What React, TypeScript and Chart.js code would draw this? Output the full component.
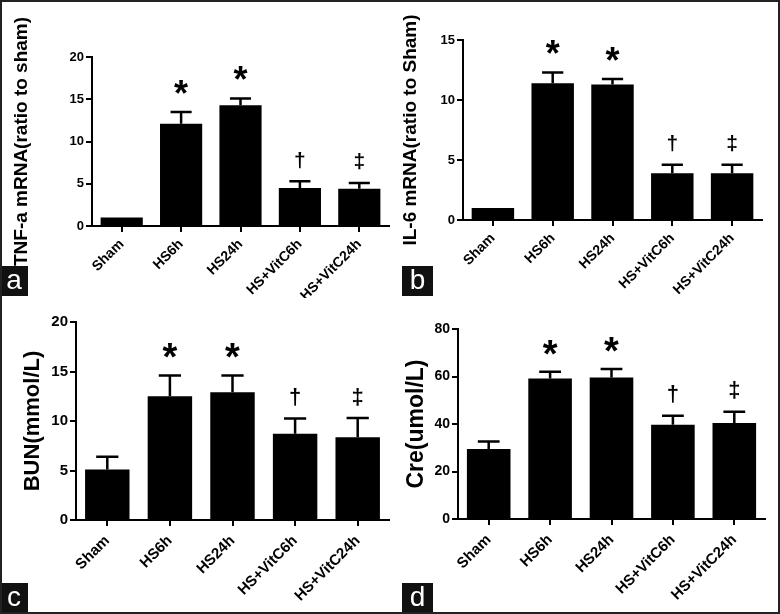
import React, { useEffect, useRef } from "react";
import { Chart, registerables } from "chart.js";

Chart.register(...registerables);

// ---------- data ----------
const categories = ["Sham", "HS6h", "HS24h", "HS+VitC6h", "HS+VitC24h"];

const tnfValues = [1.0, 12.1, 14.3, 4.5, 4.4];
const tnfErrTops = [1.0, 13.5, 15.1, 5.3, 5.1];

const il6Values = [1.0, 11.4, 11.3, 3.9, 3.9];
const il6ErrTops = [1.0, 12.3, 11.75, 4.6, 4.6];

const bunValues = [5.1, 12.5, 12.9, 8.7, 8.35];
const bunErrTops = [6.4, 14.6, 14.6, 10.25, 10.3];

const creValues = [29.5, 59.2, 59.6, 39.7, 40.4];
const creErrTops = [32.6, 62.0, 63.2, 43.5, 45.2];

const significanceMarks = ["", "*", "*", "\u2020", "\u2021"];

const FONT = "'Liberation Sans', Arial, Helvetica, sans-serif";

type PanelCfg = {
  letter: string;
  title: string;
  values: number[];
  errTops: number[];
  max: number;
  step: number;
  x: number;
  y: number;
  w: number;
  h: number;
  left: number;
  right: number;
  top: number;
  bottom: number;
  titleSize: number;
  titleX: number;
  tickSize: number;
  xTickSize: number;
  xTickPad: number;
  starSize: number;
  daggerSize: number;
  letterBox: { x: number; y: number; w: number; h: number };
};

const panels: PanelCfg[] = [
  {
    letter: "a",
    title: "TNF-a mRNA(ratio to sham)",
    values: tnfValues,
    errTops: tnfErrTops,
    max: 20,
    step: 5,
    x: 0, y: 0, w: 400, h: 298,
    left: 92, right: 389, top: 57, bottom: 226,
    titleSize: 19, titleX: 22, tickSize: 13, xTickSize: 14, xTickPad: 4,
    starSize: 36, daggerSize: 21,
    letterBox: { x: 0, y: 266, w: 28, h: 30 },
  },
  {
    letter: "b",
    title: "IL-6 mRNA(ratio to Sham)",
    values: il6Values,
    errTops: il6ErrTops,
    max: 15,
    step: 5,
    x: 400, y: 0, w: 380, h: 298,
    left: 63, right: 362, top: 40, bottom: 220,
    titleSize: 19, titleX: 11, tickSize: 13, xTickSize: 14, xTickPad: 4,
    starSize: 36, daggerSize: 21,
    letterBox: { x: 2, y: 266, w: 31, h: 30 },
  },
  {
    letter: "c",
    title: "BUN(mmol/L)",
    values: bunValues,
    errTops: bunErrTops,
    max: 20,
    step: 5,
    x: 0, y: 298, w: 400, h: 316,
    left: 76, right: 389, top: 24, bottom: 222,
    titleSize: 22, titleX: 33, tickSize: 15, xTickSize: 15, xTickPad: 6,
    starSize: 38, daggerSize: 22,
    letterBox: { x: 0, y: 285, w: 28, h: 29 },
  },
  {
    letter: "d",
    title: "Cre(umol/L)",
    values: creValues,
    errTops: creErrTops,
    max: 80,
    step: 20,
    x: 400, y: 298, w: 380, h: 316,
    left: 58, right: 365, top: 31, bottom: 221,
    titleSize: 23, titleX: 17, tickSize: 14, xTickSize: 15, xTickPad: 6,
    starSize: 38, daggerSize: 22,
    letterBox: { x: 2, y: 285, w: 31, h: 29 },
  },
];

function makeOverlay(cfg: PanelCfg) {
  return {
    id: "errorBarsAndMarks",
    afterDatasetsDraw(chart: any) {
      const ctx = chart.ctx;
      const meta = chart.getDatasetMeta(0);
      const ys = chart.scales.y;
      ctx.save();
      ctx.strokeStyle = "#000";
      ctx.fillStyle = "#000";
      ctx.lineWidth = 2.5;
      ctx.lineCap = "butt";
      meta.data.forEach((bar: any, i: number) => {
        const v = cfg.values[i];
        const e = cfg.errTops[i];
        const x = bar.x;
        const w = bar.width;
        const yTop = ys.getPixelForValue(e);
        const yBar = ys.getPixelForValue(v);
        if (e > v) {
          ctx.beginPath();
          ctx.moveTo(x, yBar);
          ctx.lineTo(x, yTop);
          ctx.moveTo(x - w * 0.25, yTop);
          ctx.lineTo(x + w * 0.25, yTop);
          ctx.stroke();
        }
        const m = significanceMarks[i];
        if (m) {
          ctx.textAlign = "center";
          ctx.textBaseline = "alphabetic";
          if (m === "*") {
            const fs = cfg.starSize;
            const cy = yTop - 24;
            ctx.font = `bold ${fs}px ${FONT}`;
            ctx.fillText(m, x, cy + 0.5 * fs);
          } else {
            const fs = cfg.daggerSize;
            const cy = yTop - 20;
            ctx.font = `bold ${fs}px ${FONT}`;
            ctx.fillText(m, x, cy + 0.26 * fs);
          }
        }
      });
      ctx.restore();
    },
  };
}

function Panel({ cfg }: { cfg: PanelCfg }) {
  const ref = useRef<HTMLCanvasElement>(null);
  useEffect(() => {
    if (!ref.current) return;
    const chart = new Chart(ref.current, {
      type: "bar",
      data: {
        labels: categories,
        datasets: [
          {
            data: cfg.values,
            backgroundColor: "#000",
            borderWidth: 0,
            barPercentage: 0.71,
            categoryPercentage: 1.0,
          },
        ],
      },
      options: {
        responsive: false,
        animation: false,
        devicePixelRatio: 1,
        layout: {
          padding: { left: 0, top: cfg.top, right: cfg.w - cfg.right, bottom: 0 },
        },
        plugins: {
          legend: { display: false },
          tooltip: { enabled: false },
        },
        scales: {
          x: {
            afterFit: (s: any) => {
              s.height = cfg.h - cfg.bottom;
            },
            ticks: {
              color: "#000",
              font: { family: FONT, size: cfg.xTickSize, weight: "bold" },
              minRotation: 45,
              maxRotation: 45,
              autoSkip: false,
              padding: cfg.xTickPad,
            },
            grid: {
              display: true,
              drawOnChartArea: false,
              drawTicks: true,
              tickLength: 6,
              color: "#000",
              lineWidth: 2,
              offset: false,
            },
            border: { display: true, color: "#000", width: 2 },
          },
          y: {
            min: 0,
            max: cfg.max,
            afterFit: (s: any) => {
              s.width = cfg.left;
            },
            ticks: {
              stepSize: cfg.step,
              color: "#000",
              font: { family: FONT, size: cfg.tickSize, weight: "bold" },
              padding: 2,
            },
            grid: {
              display: true,
              drawOnChartArea: false,
              drawTicks: true,
              tickLength: 6,
              color: "#000",
              lineWidth: 2,
            },
            border: { display: true, color: "#000", width: 2 },
            title: {
              display: true,
              text: cfg.title,
              color: "#000",
              font: { family: FONT, size: cfg.titleSize, weight: "bold", lineHeight: 1 },
              padding: { top: cfg.titleX - cfg.titleSize / 2, bottom: 0 },
            },
          },
        },
      },
      plugins: [makeOverlay(cfg)],
    } as any);
    return () => chart.destroy();
  }, [cfg]);

  return (
    <div
      style={{
        position: "absolute",
        left: cfg.x,
        top: cfg.y,
        width: cfg.w,
        height: cfg.h,
      }}
    >
      <canvas
        ref={ref}
        width={cfg.w}
        height={cfg.h}
        style={{ width: cfg.w, height: cfg.h, display: "block" }}
      />
      <div
        style={{
          position: "absolute",
          left: cfg.letterBox.x,
          top: cfg.letterBox.y,
          width: cfg.letterBox.w,
          height: cfg.letterBox.h,
          background: "#111",
          color: "#fff",
          fontFamily: FONT,
          fontSize: 28,
          lineHeight: `${cfg.letterBox.h - 2}px`,
          textAlign: "center",
        }}
      >
        {cfg.letter}
      </div>
    </div>
  );
}

export default function App() {
  return (
    <div
      style={{
        position: "absolute",
        left: 0,
        top: 0,
        width: 780,
        height: 614,
        background: "#fff",
        overflow: "hidden",
      }}
    >
      {panels.map((p) => (
        <Panel key={p.letter} cfg={p} />
      ))}
      <div
        style={{
          position: "absolute",
          left: 0,
          top: 0,
          width: 780,
          height: 614,
          boxSizing: "border-box",
          border: "2px solid #222",
          pointerEvents: "none",
        }}
      />
    </div>
  );
}
